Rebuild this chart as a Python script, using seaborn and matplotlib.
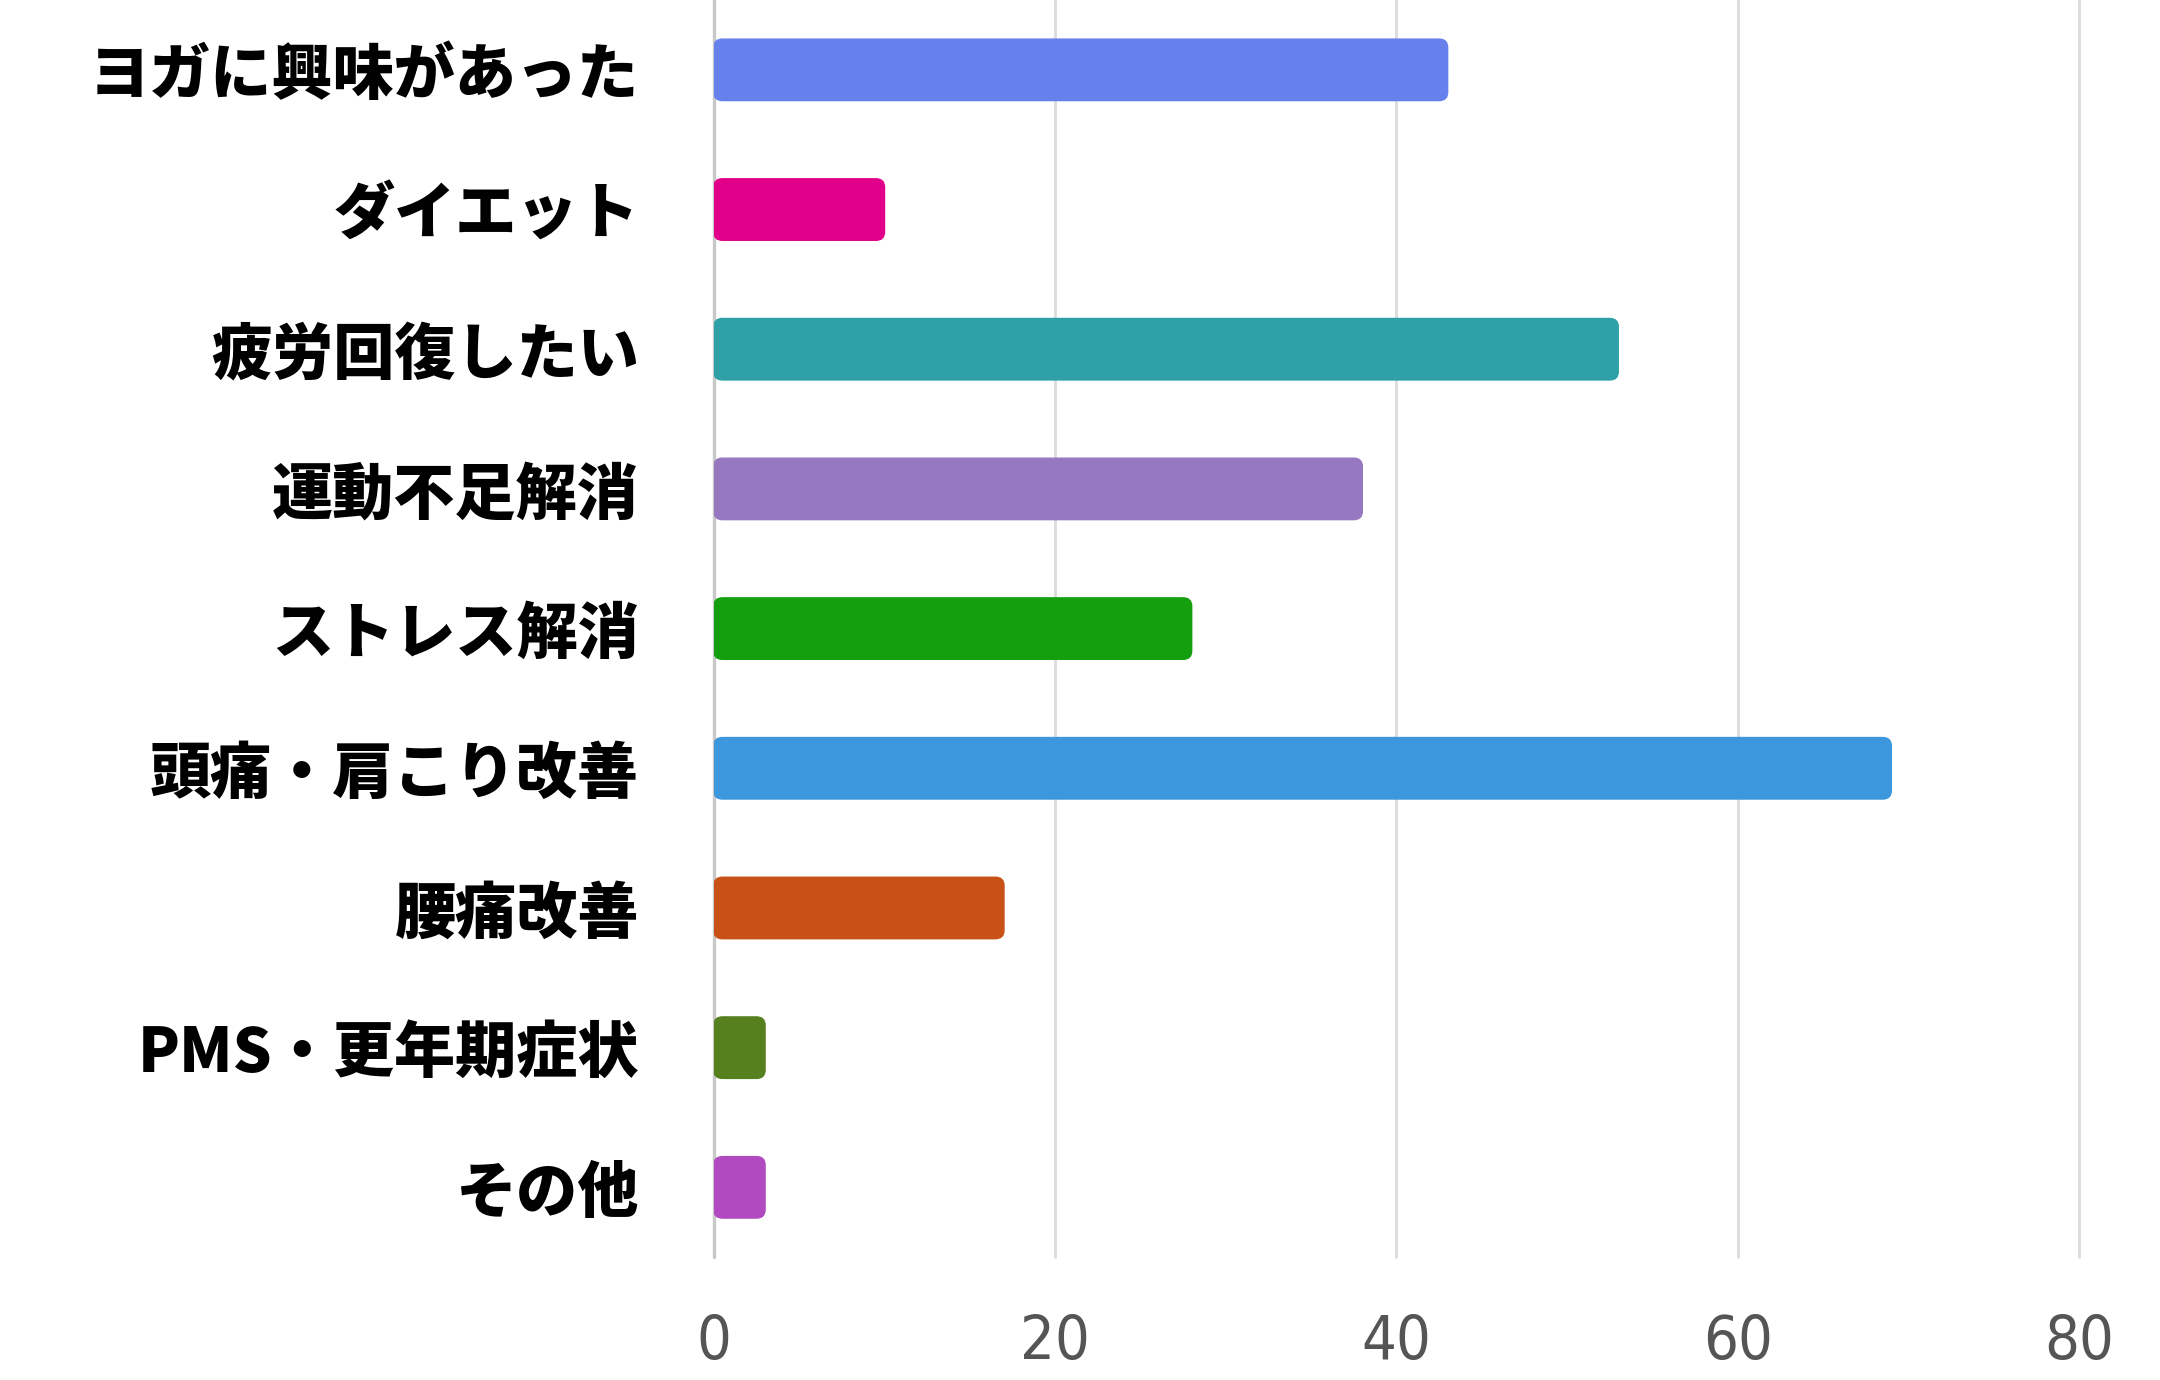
import matplotlib
matplotlib.use("Agg")
import matplotlib.pyplot as plt
from matplotlib.patches import FancyBboxPatch
import pandas as pd
import seaborn as sns

categories = [
    "ヨガに興味があった",
    "ダイエット",
    "疲労回復したい",
    "運動不足解消",
    "ストレス解消",
    "頭痛・肩こり改善",
    "腰痛改善",
    "PMS・更年期症状",
    "その他",
]
counts = [43, 10, 53, 38, 28, 69, 17, 3, 3]
bar_colors = [
    "#6680EC", "#E0008A", "#2DA1A6", "#9678C0", "#14A00E",
    "#3C97DD", "#C85116", "#56801D", "#B14AC1",
]
x_ticks = [0, 20, 40, 60, 80]

df = pd.DataFrame({"reason": categories, "count": counts})

sns.set_theme(style="white")
plt.rcParams["font.family"] = ["Noto Sans CJK JP", "DejaVu Sans"]

fig = plt.figure(figsize=(10.8, 6.9), dpi=200)
ax = fig.add_axes([0.3305, 0.089, 0.632, 0.911])

sns.barplot(data=df, x="count", y="reason", hue="reason", palette=bar_colors,
            legend=False, width=0.44, saturation=1, ax=ax)

# swap plain rectangles for slightly rounded ones
for p in list(ax.patches):
    x, y = p.get_x(), p.get_y()
    w, h = p.get_width(), p.get_height()
    fc = p.get_facecolor()
    rb = FancyBboxPatch((x, y), w, h,
                        boxstyle="round,pad=0,rounding_size=0.5",
                        mutation_aspect=0.12, fc=fc, ec=fc, lw=0.5, zorder=3)
    p.remove()
    ax.add_patch(rb)

ax.set_xlim(0, 80)
ax.set_ylim(8.5, -0.5)
ax.set_xticks(x_ticks)
ax.set_xlabel("")
ax.set_ylabel("")
ax.grid(axis="x", color="#dcdcdc", linewidth=1.0, zorder=0, clip_on=False)
ax.set_axisbelow(True)
ax.axvline(0, color="#c8c8c8", linewidth=1.2, zorder=1, clip_on=False)
for s in ax.spines.values():
    s.set_visible(False)

ax.tick_params(axis="y", length=0, pad=27)
ax.tick_params(axis="x", length=0, pad=20)
for lbl in ax.get_yticklabels():
    lbl.set_fontsize(22)
    lbl.set_fontweight(900)
    lbl.set_color("black")
for lbl in ax.get_xticklabels():
    lbl.set_fontsize(22)
    lbl.set_color("#555555")
    lbl.set_family(["DejaVu Sans"])
    lbl.set_fontstretch("condensed")
    lbl.set_fontweight("light")

fig.savefig("out.png", dpi=200, facecolor="white")
plt.close(fig)
